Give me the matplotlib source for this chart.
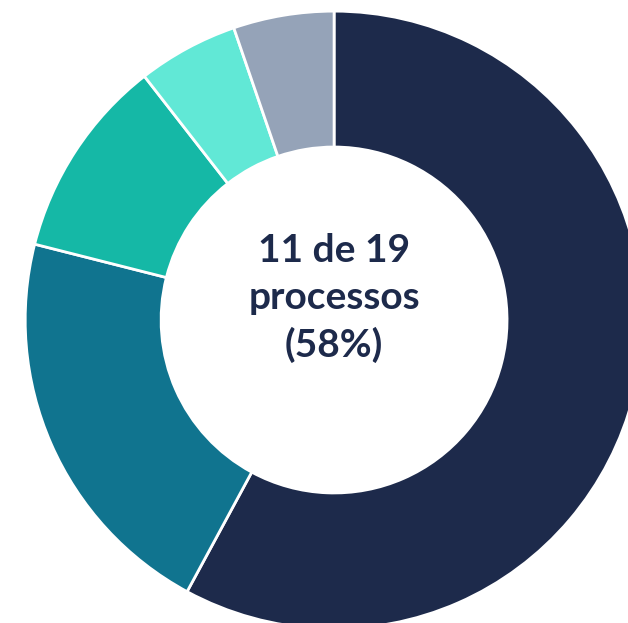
import matplotlib.pyplot as plt

# dados do grafico
categorias = ['A', 'B', 'C', 'D', 'E']
processos = [11, 4, 2, 1, 1]
cores = ['#1D2A4B', '#10748F', '#15B8A6', '#61E8D6', '#95A3B8']

fig = plt.figure(figsize=(6.28, 6.23), dpi=100)
ax = fig.add_axes([0, 0, 1, 1])

ax.pie(processos, colors=cores, startangle=90, counterclock=False,
       radius=1, wedgeprops=dict(width=0.44, edgecolor='white', linewidth=2))

# texto central
ax.text(0, 0.07, '11 de 19\nprocessos\n(58%)', ha='center', va='center',
        fontsize=28, fontweight='bold', color='#1D2A4B', family='Lato',
        linespacing=1.4)

ax.set_xlim(-1.081, 0.951)
ax.set_ylim(-0.981, 1.036)
ax.set_aspect('equal')
ax.axis('off')

fig.savefig('out.png', dpi=100)
